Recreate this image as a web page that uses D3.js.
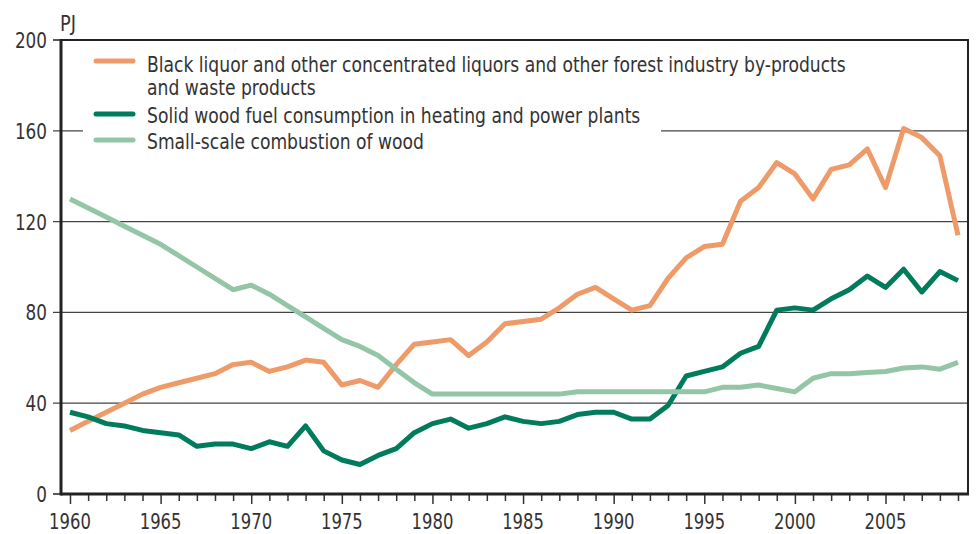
<!DOCTYPE html>
<html>
<head>
<meta charset="utf-8">
<script src="https://cdnjs.cloudflare.com/ajax/libs/d3/7.8.5/d3.min.js"></script>
<style>
  body { margin: 0; background: #fff; }
  text { font-family: "DejaVu Sans Condensed", "DejaVu Sans", sans-serif; fill: #333; }
</style>
</head>
<body>
<div id="chart"></div>
<script>
// Data (PJ)
var years = d3.range(1960, 2010);

var blackLiquor = [28, 32, 36, 40, 44, 47, 49, 51, 53, 57,
                   58, 54, 56, 59, 58, 48, 50, 47, 57, 66,
                   67, 68, 61, 67, 75, 76, 77, 82, 88, 91,
                   86, 81, 83, 95, 104, 109, 110, 129, 135, 146,
                   141, 130, 143, 145, 152, 135, 161, 157, 149, 114];

var solidWood = [36, 34, 31, 30, 28, 27, 26, 21, 22, 22,
                 20, 23, 21, 30, 19, 15, 13, 17, 20, 27,
                 31, 33, 29, 31, 34, 32, 31, 32, 35, 36,
                 36, 33, 33, 39, 52, 54, 56, 62, 65, 81,
                 82, 81, 86, 90, 96, 91, 99, 89, 98, 94];

var smallScale = [130, 126, 122, 118, 114, 110, 105, 100, 95, 90,
                  92, 88, 83, 78, 73, 68, 65, 61, 55, 49,
                  44, 44, 44, 44, 44, 44, 44, 44, 45, 45,
                  45, 45, 45, 45, 45, 45, 47, 47, 48, 46.5,
                  45, 51, 53, 53, 53.5, 54, 55.5, 56, 55, 58];

var seriesNames = [
  ["Black liquor and other concentrated liquors and other forest industry by-products", "and waste products"],
  ["Solid wood fuel consumption in heating and power plants"],
  ["Small-scale combustion of wood"]
];
var seriesColors = ["#ee9a69", "#007b5b", "#94c5a7"];
var yTicks = [0, 40, 80, 120, 160, 200];
var xLabelYears = [1960, 1965, 1970, 1975, 1980, 1985, 1990, 1995, 2000, 2005];

var svgWidth = 976;
var svgHeight = 534;

var svg = d3.select("#chart")
  .append("svg")
  .attr("width", svgWidth)
  .attr("height", svgHeight);

var plotLeft = 61, plotRight = 968, plotTop = 40, plotBottom = 494;

var x = d3.scaleLinear().domain([1960, 2009]).range([70, 958]);
var y = d3.scaleLinear().domain([0, 200]).range([plotBottom, plotTop]);

// narrow text: the reference uses a condensed face, squeeze horizontally
function addText(g, tx, ty, str, size, sx, anchor) {
  return g.append("text")
    .attr("transform", `translate(${tx}, ${ty}) scale(${sx}, 1)`)
    .attr("text-anchor", anchor || "start")
    .style("font-size", size + "px")
    .text(str);
}

// gridlines
svg.append("g")
  .selectAll("line")
  .data(yTicks.filter(d => d > 0 && d < 200))
  .enter()
  .append("line")
  .attr("x1", plotLeft - 8)
  .attr("x2", plotRight)
  .attr("y1", d => y(d))
  .attr("y2", d => y(d))
  .attr("stroke", "#444")
  .attr("stroke-width", 1.2);

// y tick labels
var yLabels = svg.append("g");
yTicks.forEach(function(d) {
  addText(yLabels, 47, y(d) + 8, d, 22, 0.85, "end");
});

svg.append("g")
  .selectAll("line")
  .data([0, 200])
  .enter()
  .append("line")
  .attr("x1", plotLeft - 8)
  .attr("x2", plotLeft)
  .attr("y1", d => y(d))
  .attr("y2", d => y(d))
  .attr("stroke", "#222")
  .attr("stroke-width", 1.5);

addText(svg, 60, 31, "PJ", 22, 0.9);

// x axis
var xAxis = svg.append("g")
  .attr("transform", `translate(0, ${plotBottom})`)
  .call(d3.axisBottom(x)
    .tickValues(years)
    .tickSize(0)
    .tickFormat(""));
xAxis.select(".domain").remove();
xAxis.selectAll(".tick line")
  .attr("y2", d => d % 5 === 0 ? 10 : 7)
  .attr("stroke", "#333")
  .attr("stroke-width", 1.5);

var xLabels = svg.append("g");
xLabelYears.forEach(function(d) {
  addText(xLabels, x(d), 529, d, 22, 0.83, "middle");
});

// frame
svg.append("line").attr("x1", plotLeft).attr("x2", plotRight + 1).attr("y1", plotTop).attr("y2", plotTop)
  .attr("stroke", "#222").attr("stroke-width", 2);
svg.append("line").attr("x1", plotRight).attr("x2", plotRight).attr("y1", plotTop).attr("y2", plotBottom)
  .attr("stroke", "#222").attr("stroke-width", 2);

// lines
var lineGen = d3.line()
  .x((d, i) => x(years[i]))
  .y(d => y(d));

[blackLiquor, solidWood, smallScale].forEach(function(series, i) {
  svg.append("path")
    .datum(series)
    .attr("fill", "none")
    .attr("stroke", seriesColors[i])
    .attr("stroke-width", 5)
    .attr("stroke-linejoin", "round")
    .attr("d", lineGen);
});

// axis lines drawn on top
svg.append("line").attr("x1", plotLeft).attr("x2", plotLeft).attr("y1", plotTop - 1).attr("y2", plotBottom + 1.5)
  .attr("stroke", "#222").attr("stroke-width", 3);
svg.append("line").attr("x1", plotLeft).attr("x2", plotRight + 1).attr("y1", plotBottom).attr("y2", plotBottom)
  .attr("stroke", "#222").attr("stroke-width", 3);

// legend
var legend = svg.append("g");
legend.append("rect")
  .attr("x", 83).attr("y", 46).attr("width", 578).attr("height", 108)
  .attr("fill", "#fff");

var legendY = [61, 114, 140];
var textY = [72, 123, 149];
seriesNames.forEach(function(lines, i) {
  legend.append("line")
    .attr("x1", 96).attr("x2", 133)
    .attr("y1", legendY[i]).attr("y2", legendY[i])
    .attr("stroke", seriesColors[i])
    .attr("stroke-width", 5)
    .attr("stroke-linecap", "round");
  lines.forEach(function(t, j) {
    addText(legend, 147, textY[i] + j * 23, t, 21.5, 0.887);
  });
});
</script>
</body>
</html>
